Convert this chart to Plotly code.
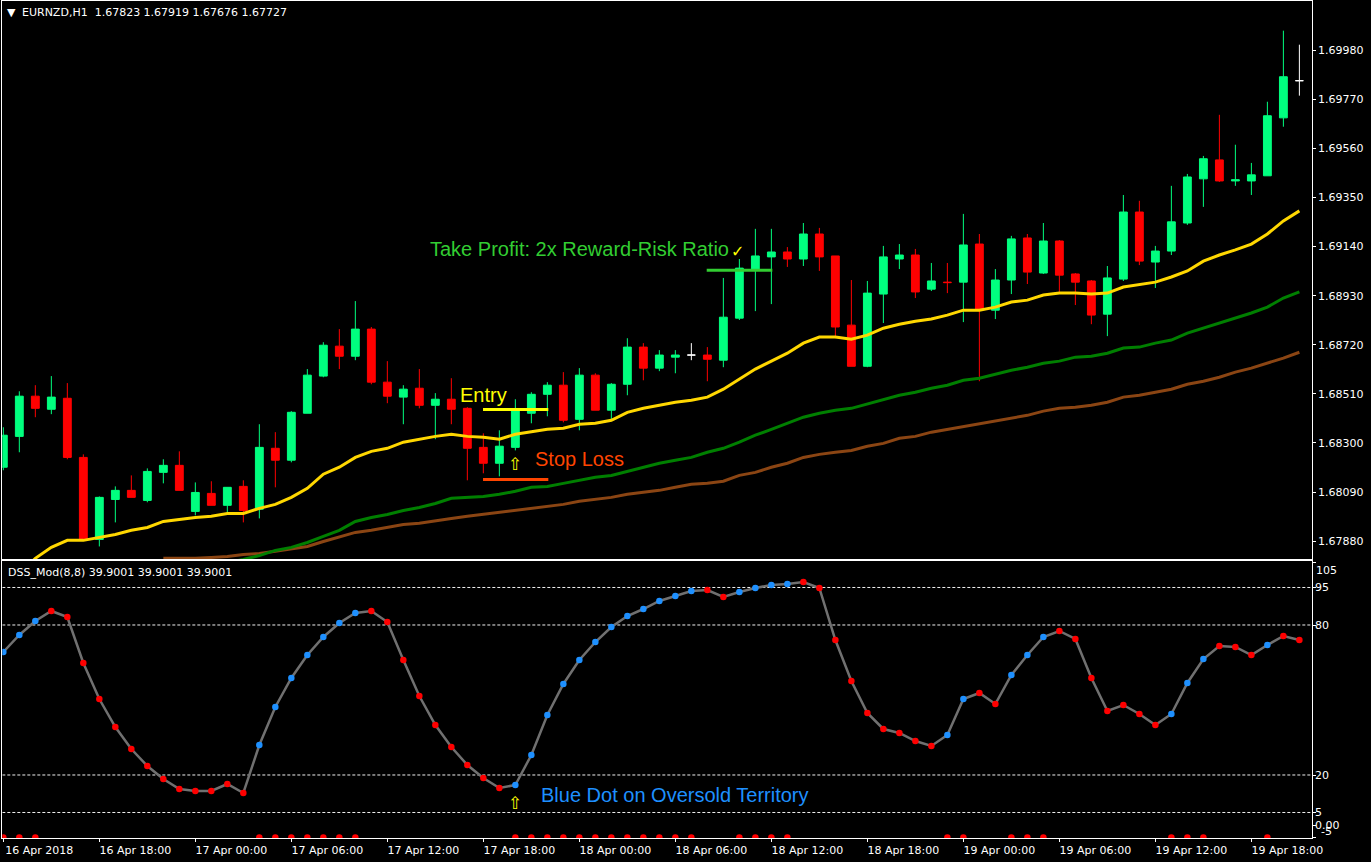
import numpy as np
import plotly.graph_objects as go
from plotly.subplots import make_subplots

W, H = 1371, 862

# ── H1 bars ──────────────────────────────────────────────────────────────────
opens = [1.68196, 1.68328, 1.68500, 1.68444, 1.68491, 1.68238, 1.67887, 1.68058, 1.68097, 1.68054,
         1.68174, 1.68204, 1.68007, 1.68084, 1.68033, 1.68114, 1.68016, 1.68277, 1.68226, 1.68427,
         1.68586, 1.68714, 1.68671, 1.68787, 1.68560, 1.68496, 1.68534, 1.68461, 1.68487, 1.68448,
         1.68281, 1.68213, 1.68281, 1.68427, 1.68508, 1.68547, 1.68401, 1.68590, 1.68440, 1.68551,
         1.68710, 1.68620, 1.68667, 1.68676, 1.68676, 1.68654, 1.68834, 1.69040, 1.69096, 1.69117,
         1.69087, 1.69194, 1.69100, 1.68804, 1.68628, 1.68937, 1.69087, 1.69104, 1.68958, 1.68988,
         1.68988, 1.69151, 1.68868, 1.68997, 1.69177, 1.69027, 1.69164, 1.69023, 1.68993, 1.68851,
         1.69001, 1.69288, 1.69074, 1.69121, 1.69241, 1.69430, 1.69511, 1.69421, 1.69421, 1.69443,
         1.69691, 1.69850]
highs = [1.68367, 1.68521, 1.68547, 1.68586, 1.68556, 1.68251, 1.68071, 1.68114, 1.68161, 1.68191,
         1.68230, 1.68264, 1.68131, 1.68136, 1.68110, 1.68140, 1.68380, 1.68346, 1.68436, 1.68616,
         1.68731, 1.68787, 1.68907, 1.68796, 1.68650, 1.68547, 1.68616, 1.68513, 1.68577, 1.68453,
         1.68341, 1.68354, 1.68487, 1.68517, 1.68560, 1.68603, 1.68620, 1.68598, 1.68556, 1.68748,
         1.68727, 1.68697, 1.68697, 1.68727, 1.68710, 1.69006, 1.69087, 1.69216, 1.69216, 1.69138,
         1.69241, 1.69220, 1.69100, 1.68997, 1.68993, 1.69143, 1.69151, 1.69130, 1.69070, 1.69070,
         1.69280, 1.69194, 1.69044, 1.69186, 1.69194, 1.69241, 1.69168, 1.69027, 1.68997, 1.69057,
         1.69361, 1.69336, 1.69143, 1.69400, 1.69451, 1.69528, 1.69704, 1.69576, 1.69498, 1.69760,
         1.70064, 1.70004]
lows = [1.68183, 1.68260, 1.68410, 1.68423, 1.68230, 1.67883, 1.67857, 1.67960, 1.68067, 1.68046,
        1.68127, 1.68097, 1.67990, 1.68033, 1.68003, 1.67960, 1.67977, 1.68110, 1.68217, 1.68427,
        1.68581, 1.68616, 1.68654, 1.68551, 1.68470, 1.68380, 1.68448, 1.68316, 1.68380, 1.68140,
        1.68170, 1.68157, 1.68268, 1.68384, 1.68414, 1.68388, 1.68354, 1.68440, 1.68401, 1.68504,
        1.68568, 1.68607, 1.68598, 1.68654, 1.68564, 1.68624, 1.68826, 1.68864, 1.68894, 1.69053,
        1.69057, 1.69036, 1.68748, 1.68628, 1.68624, 1.68813, 1.69044, 1.68920, 1.68950, 1.68941,
        1.68817, 1.68564, 1.68830, 1.68937, 1.68980, 1.69023, 1.68946, 1.68890, 1.68808, 1.68757,
        1.68993, 1.69061, 1.68963, 1.69104, 1.69233, 1.69310, 1.69417, 1.69400, 1.69361, 1.69443,
        1.69653, 1.69786]
closes = [1.68333, 1.68500, 1.68448, 1.68496, 1.68238, 1.67883, 1.68067, 1.68097, 1.68067, 1.68178,
          1.68204, 1.68097, 1.68088, 1.68033, 1.68110, 1.68011, 1.68281, 1.68226, 1.68431, 1.68590,
          1.68718, 1.68671, 1.68787, 1.68560, 1.68500, 1.68530, 1.68461, 1.68487, 1.68444, 1.68277,
          1.68213, 1.68286, 1.68440, 1.68508, 1.68547, 1.68397, 1.68590, 1.68440, 1.68551, 1.68710,
          1.68620, 1.68676, 1.68676, 1.68676, 1.68658, 1.68838, 1.69048, 1.69100, 1.69117, 1.69087,
          1.69194, 1.69096, 1.68796, 1.68628, 1.68941, 1.69096, 1.69104, 1.68946, 1.68993, 1.68986,
          1.69147, 1.68873, 1.68997, 1.69173, 1.69031, 1.69164, 1.69018, 1.68988, 1.68847, 1.69006,
          1.69288, 1.69078, 1.69121, 1.69246, 1.69438, 1.69516, 1.69421, 1.69426, 1.69447, 1.69700,
          1.69867, 1.69850]

# ── moving averages ──────────────────────────────────────────────────────────
ma_yellow = [1.67668, 1.67737, 1.67806, 1.67853, 1.67883, 1.67883, 1.67896, 1.67908, 1.67926, 1.67938,
             1.67964, 1.67973, 1.67981, 1.67986, 1.67998, 1.67998, 1.68020, 1.68037, 1.68067, 1.68106,
             1.68166, 1.68196, 1.68238, 1.68264, 1.68277, 1.68303, 1.68316, 1.68328, 1.68337, 1.68328,
             1.68324, 1.68316, 1.68337, 1.68346, 1.68358, 1.68363, 1.68380, 1.68384, 1.68397, 1.68431,
             1.68448, 1.68461, 1.68474, 1.68483, 1.68496, 1.68530, 1.68573, 1.68616, 1.68650, 1.68684,
             1.68727, 1.68753, 1.68753, 1.68744, 1.68761, 1.68791, 1.68808, 1.68821, 1.68830, 1.68847,
             1.68868, 1.68868, 1.68881, 1.68903, 1.68911, 1.68933, 1.68941, 1.68941, 1.68937, 1.68941,
             1.68967, 1.68976, 1.68988, 1.69010, 1.69036, 1.69078, 1.69104, 1.69126, 1.69151, 1.69194,
             1.69250, 1.69293]
ma_green = [None] * 14 + [
    1.67788, 1.67801, 1.67818, 1.67840, 1.67853, 1.67874, 1.67900, 1.67926, 1.67964, 1.67981,
    1.67994, 1.68011, 1.68024, 1.68041, 1.68063, 1.68067, 1.68071, 1.68080, 1.68093, 1.68110,
    1.68114, 1.68127, 1.68140, 1.68153, 1.68161, 1.68178, 1.68196, 1.68213, 1.68226, 1.68238,
    1.68260, 1.68277, 1.68303, 1.68333, 1.68358, 1.68384, 1.68410, 1.68427, 1.68440, 1.68448,
    1.68466, 1.68487, 1.68504, 1.68517, 1.68534, 1.68547, 1.68568, 1.68577, 1.68594, 1.68611,
    1.68624, 1.68641, 1.68650, 1.68667, 1.68671, 1.68684, 1.68706, 1.68710, 1.68727, 1.68740,
    1.68770, 1.68791, 1.68813, 1.68834, 1.68856, 1.68881, 1.68920, 1.68946]
ma_brown = [None] * 10 + [
    1.67806, 1.67806, 1.67806, 1.67810, 1.67814, 1.67823, 1.67827, 1.67836, 1.67848, 1.67857,
    1.67878, 1.67896, 1.67917, 1.67926, 1.67938, 1.67951, 1.67956, 1.67968, 1.67977, 1.67986,
    1.67994, 1.68003, 1.68011, 1.68020, 1.68028, 1.68037, 1.68050, 1.68058, 1.68067, 1.68080,
    1.68088, 1.68097, 1.68110, 1.68123, 1.68127, 1.68136, 1.68161, 1.68174, 1.68196, 1.68213,
    1.68238, 1.68251, 1.68260, 1.68268, 1.68286, 1.68298, 1.68320, 1.68328, 1.68346, 1.68358,
    1.68371, 1.68380, 1.68393, 1.68406, 1.68418, 1.68436, 1.68448, 1.68453, 1.68461, 1.68474,
    1.68496, 1.68504, 1.68517, 1.68530, 1.68551, 1.68564, 1.68581, 1.68603, 1.68620, 1.68641,
    1.68663, 1.68688]

# ── DSS oscillator ───────────────────────────────────────────────────────────
dss = [69.2, 76.0, 81.6, 85.6, 83.2, 64.8, 50.4, 39.2, 30.4, 23.6,
       18.4, 14.4, 13.6, 13.6, 16.4, 12.8, 32.0, 47.2, 58.8, 68.0,
       75.2, 80.8, 84.8, 85.6, 81.2, 66.0, 51.6, 40.0, 31.2, 24.0,
       18.8, 14.8, 16.0, 28.0, 44.0, 56.4, 66.0, 73.2, 79.2, 83.6,
       86.4, 89.6, 91.6, 93.6, 94.0, 91.2, 93.2, 94.8, 96.0, 96.4,
       97.2, 94.8, 74.0, 57.6, 44.8, 38.4, 36.8, 33.6, 31.6, 36.0,
       50.4, 52.8, 48.4, 60.0, 68.0, 75.2, 77.6, 74.4, 58.8, 45.6,
       48.0, 44.4, 40.0, 44.4, 56.8, 66.4, 71.6, 71.2, 68.0, 72.0,
       75.6, 74.0]
blue_bars = [0, 1, 2, 16, 17, 18, 19, 20, 21, 22,
             32, 33, 34, 35, 36, 37, 38, 39, 40, 41, 42, 43,
             46, 47, 48, 49, 59, 60, 63, 64, 65, 73, 74, 75, 79]
flag_level = -5
dss_levels = [95, 80, 20, 5]

# ── axis labels ──────────────────────────────────────────────────────────────
price_ticks = [1.67880, 1.68090, 1.68300, 1.68510, 1.68720, 1.68930, 1.69140, 1.69350, 1.69560, 1.69770, 1.69980]
dss_ticks = [105, 95, 80, 20, 5, 0, -5]
dss_tick_text = ["", "95", "80", "20", "5", "0.00", ""]
time_labels = ["16 Apr 2018", "16 Apr 18:00", "17 Apr 00:00", "17 Apr 06:00", "17 Apr 12:00",
               "17 Apr 18:00", "18 Apr 00:00", "18 Apr 06:00", "18 Apr 12:00", "18 Apr 18:00",
               "19 Apr 00:00", "19 Apr 06:00", "19 Apr 12:00", "19 Apr 18:00"]

# ── trade levels drawn on the chart: (first bar, last bar, price) ────────────
entry_level = (29.98, 34.06, 1.68443)
stop_level = (29.98, 34.06, 1.68143)
target_level = (43.96, 48.06, 1.69039)

bars = np.arange(len(closes))
o, h, l, c = map(np.array, (opens, highs, lows, closes))
doji = o == c
blue_set = set(blue_bars)
dot_colors = ["#1E90FF" if i in blue_set else "#FF0000" for i in bars]

fig = make_subplots(rows=2, cols=1, shared_xaxes=True)

# candles first so the averages sit on top of them
fig.add_trace(go.Candlestick(
    x=bars[~doji], open=o[~doji], high=h[~doji], low=l[~doji], close=c[~doji],
    increasing=dict(line=dict(color="#00FF7F", width=1), fillcolor="#00FF7F"),
    decreasing=dict(line=dict(color="#FF0000", width=1), fillcolor="#FF0000"),
    whiskerwidth=0,
), row=1, col=1)
fig.add_trace(go.Candlestick(
    x=bars[doji], open=o[doji], high=h[doji], low=l[doji], close=c[doji],
    increasing=dict(line=dict(color="#FFFFFF", width=1), fillcolor="#FFFFFF"),
    decreasing=dict(line=dict(color="#FFFFFF", width=1), fillcolor="#FFFFFF"),
    whiskerwidth=0,
), row=1, col=1)

for values, color in [(ma_brown, "#8B4513"), (ma_green, "#007F00"), (ma_yellow, "#FFD700")]:
    fig.add_trace(go.Scatter(x=bars, y=values, mode="lines",
                             line=dict(color=color, width=3)), row=1, col=1)

for (x0, x1, price), color in [(entry_level, "#FFFF00"), (stop_level, "#FF4500"), (target_level, "#32CD32")]:
    fig.add_trace(go.Scatter(x=[x0, x1], y=[price, price], mode="lines",
                             line=dict(color=color, width=3)), row=1, col=1)

# oscillator panel
for level in dss_levels:
    fig.add_trace(go.Scatter(x=[bars[0] - 1, bars[-1] + 1], y=[level, level], mode="lines",
                             line=dict(color="#F0F0F0", width=1, dash="3px,2px")), row=2, col=1)
fig.add_trace(go.Scatter(x=bars, y=dss, mode="lines",
                         line=dict(color="#707070", width=2.5)), row=2, col=1)
fig.add_trace(go.Scatter(x=bars, y=dss, mode="markers",
                         marker=dict(color=dot_colors, size=6.5, line=dict(width=0))), row=2, col=1)
fig.add_trace(go.Scatter(x=blue_bars, y=[flag_level] * len(blue_bars), mode="markers",
                         marker=dict(color="#FF0000", size=6.5, line=dict(width=0))), row=2, col=1)

# ── texts ────────────────────────────────────────────────────────────────────
chart_texts = [
    ("Take Profit: 2x Reward-Risk Ratio", 26.55, 1.69130, "#32CD32", 20, "x", "y"),
    ("Entry", 28.42, 1.68504, "#FFFF00", 20, "x", "y"),
    ("Stop Loss", 33.11, 1.68230, "#FF4500", 20, "x", "y"),
    ("Blue Dot on Oversold Territory", 33.48, 12, "#1E90FF", 20, "x", "y2"),
]
for text, x, y, color, size, xref, yref in chart_texts:
    fig.add_annotation(text=text, x=x, y=y, xref=xref, yref=yref, showarrow=False,
                       xanchor="left", yanchor="middle",
                       font=dict(family="Liberation Sans", size=size, color=color))

glyphs = [("⇧", 32, 1.68208, "#FFFF00", "y", 17), ("⇧", 32, 8.9, "#FFFF00", "y2", 17),
          ("✓", 45.9, 1.69117, "#FFFF00", "y", 16)]
for text, x, y, color, yref, size in glyphs:
    fig.add_annotation(text=text, x=x, y=y, xref="x", yref=yref, showarrow=False,
                       font=dict(family="DejaVu Sans", size=size, color=color))

small = dict(family="DejaVu Sans", size=11, color="#FFFFFF")
corner_texts = [
    ("▼", 5, 13, 11), ("EURNZD,H1  1.67823 1.67919 1.67676 1.67727", 20, 13, 11),
    ("DSS_Mod(8,8) 39.9001 39.9001 39.9001", 6, 572, 11),
    ("105", 1314, 570, 11), ("-5", 1319, 831, 11),
]
for text, px, py, size in corner_texts:
    fig.add_annotation(text=text, x=px / W, y=1 - py / H, xref="paper", yref="paper", showarrow=False,
                       xanchor="left", yanchor="middle", font=dict(small, size=size))

# ── layout ───────────────────────────────────────────────────────────────────
axis_common = dict(showgrid=False, zeroline=False, showline=True, mirror=True,
                   linecolor="#FFFFFF", linewidth=1, ticks="outside", ticklen=3,
                   tickcolor="#FFFFFF", tickfont=small, automargin=False)
x_range = [-0.064, 81.77]

fig.update_layout(
    width=W, height=H,
    margin=dict(l=0, r=0, t=0, b=0),
    paper_bgcolor="#000000", plot_bgcolor="#000000",
    showlegend=False, hovermode=False,
    xaxis=dict(axis_common, domain=[2.3 / W, 1311.7 / W], range=x_range,
               rangeslider=dict(visible=False), ticks="", showticklabels=False),
    xaxis2=dict(axis_common, domain=[2.3 / W, 1311.7 / W], range=x_range,
                tickmode="array", tickvals=list(bars[::6]), ticktext=time_labels,
                ticklabelshift=36, ticklabeloverflow="allow", ticklabelstandoff=-2),
    yaxis=dict(axis_common, domain=[1 - 559.3 / H, 1 - 1.0 / H], side="right",
               range=[1.67802, 1.70191], tickmode="array", tickvals=price_ticks,
               tickformat=".5f"),
    yaxis2=dict(axis_common, domain=[1 - 838.3 / H, 1 - 561.3 / H], side="right",
                range=[-5.32, 105.48], tickmode="array", tickvals=dss_ticks,
                ticktext=dss_tick_text, ticklabelstandoff=-3),
)

fig.write_html("out.html", config=dict(displayModeBar=False),
               post_script="document.body.style.margin='0';document.body.style.overflow='hidden';")
